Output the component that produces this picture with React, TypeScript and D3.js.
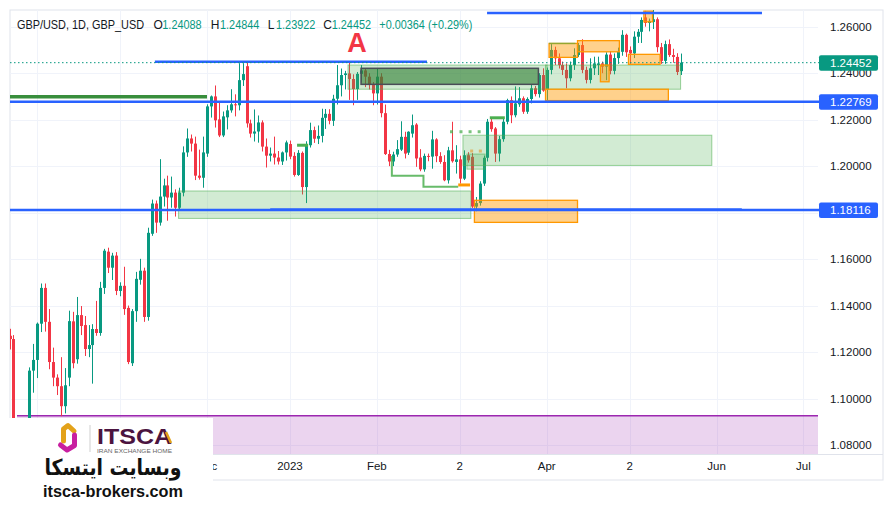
import React from "react";
import * as d3 from "d3";

// Daily GBP/USD candles [open, high, low, close], 22 Sep 2022 .. 19 May 2023
const ohlc: [number, number, number, number][] = [
  [1.1270, 1.1300, 1.1211, 1.1256], [1.1256, 1.1273, 1.0838, 1.0856], [1.0850, 1.0915, 1.0350, 1.0686],
  [1.0686, 1.0870, 1.0652, 1.0732], [1.0732, 1.0891, 1.0539, 1.0889], [1.0889, 1.1134, 1.0762, 1.1120],
  [1.1120, 1.1235, 1.1025, 1.1166], [1.1166, 1.1327, 1.1088, 1.1322], [1.1322, 1.1495, 1.1286, 1.1476],
  [1.1476, 1.1495, 1.1288, 1.1330], [1.1330, 1.1385, 1.1126, 1.1157], [1.1157, 1.1219, 1.1053, 1.1090],
  [1.1090, 1.1104, 1.1015, 1.1053], [1.1053, 1.1178, 1.0924, 1.0967], [1.0967, 1.1131, 1.0936, 1.1057],
  [1.1090, 1.1378, 1.1053, 1.1333], [1.1332, 1.1373, 1.1130, 1.1152], [1.1169, 1.1437, 1.1150, 1.1359],
  [1.1359, 1.1398, 1.1273, 1.1312], [1.1316, 1.1355, 1.1183, 1.1213], [1.1213, 1.1316, 1.1178, 1.1230],
  [1.1230, 1.1320, 1.1064, 1.1299], [1.1299, 1.1420, 1.1270, 1.1282], [1.1282, 1.1502, 1.1270, 1.1476],
  [1.1476, 1.1644, 1.1450, 1.1636], [1.1632, 1.1649, 1.1540, 1.1563], [1.1563, 1.1627, 1.1510, 1.1615],
  [1.1615, 1.1630, 1.1445, 1.1463], [1.1463, 1.1500, 1.1440, 1.1485], [1.1485, 1.1567, 1.1360, 1.1385],
  [1.1390, 1.1400, 1.1148, 1.1157], [1.1152, 1.1385, 1.1140, 1.1376], [1.1376, 1.1545, 1.1330, 1.1515],
  [1.1511, 1.1601, 1.1490, 1.1550], [1.1550, 1.1563, 1.1330, 1.1351], [1.1351, 1.1735, 1.1335, 1.1713],
  [1.1709, 1.1856, 1.1700, 1.1839], [1.1839, 1.1852, 1.1713, 1.1757], [1.1757, 1.2030, 1.1744, 1.1869],
  [1.1869, 1.1946, 1.1826, 1.1917], [1.1917, 1.1959, 1.1765, 1.1865], [1.1865, 1.1955, 1.1821, 1.1886],
  [1.1886, 1.1900, 1.1783, 1.1821], [1.1821, 1.1907, 1.1810, 1.1886], [1.1886, 1.2085, 1.1870, 1.2059],
  [1.2059, 1.2162, 1.2040, 1.2119], [1.2119, 1.2136, 1.2063, 1.2097], [1.2097, 1.2127, 1.1940, 1.1959],
  [1.1959, 1.2071, 1.1942, 1.1950], [1.1950, 1.2127, 1.1907, 1.2059], [1.2054, 1.2266, 1.2040, 1.2257],
  [1.2257, 1.2304, 1.2209, 1.2300], [1.2300, 1.2347, 1.2166, 1.2197], [1.2201, 1.2275, 1.2125, 1.2132],
  [1.2132, 1.2235, 1.2125, 1.2214], [1.2210, 1.2262, 1.2158, 1.2240], [1.2240, 1.2331, 1.2230, 1.2266],
  [1.2266, 1.2309, 1.2214, 1.2262], [1.2262, 1.2443, 1.2240, 1.2370], [1.2370, 1.2443, 1.2345, 1.2396],
  [1.2430, 1.2446, 1.2166, 1.2184], [1.2184, 1.2200, 1.2123, 1.2140], [1.2140, 1.2244, 1.2106, 1.2149],
  [1.2149, 1.2218, 1.2101, 1.2188], [1.2188, 1.2197, 1.2063, 1.2084], [1.2084, 1.2119, 1.1994, 1.2045],
  [1.2045, 1.2080, 1.2020, 1.2054], [1.2054, 1.2127, 1.2007, 1.2037], [1.2037, 1.2065, 1.2007, 1.2020],
  [1.2020, 1.2063, 1.2005, 1.2059], [1.2059, 1.2110, 1.2024, 1.2102], [1.2095, 1.2110, 1.2030, 1.2041],
  [1.2044, 1.2060, 1.1955, 1.1962], [1.1962, 1.2069, 1.1958, 1.2057], [1.2057, 1.2063, 1.1878, 1.1910],
  [1.1910, 1.2107, 1.1841, 1.2090], [1.2090, 1.2187, 1.2080, 1.2155], [1.2155, 1.2170, 1.2100, 1.2118],
  [1.2118, 1.2175, 1.2095, 1.2130], [1.2130, 1.2247, 1.2102, 1.2208], [1.2208, 1.2246, 1.2160, 1.2225],
  [1.2225, 1.2245, 1.2180, 1.2195], [1.2195, 1.2307, 1.2173, 1.2290], [1.2290, 1.2435, 1.2265, 1.2348],
  [1.2348, 1.2420, 1.2300, 1.2392], [1.2392, 1.2410, 1.2330, 1.2399], [1.2399, 1.2448, 1.2285, 1.2375],
  [1.2375, 1.2395, 1.2262, 1.2332], [1.2332, 1.2405, 1.2285, 1.2397], [1.2397, 1.2435, 1.2360, 1.2412],
  [1.2412, 1.2420, 1.2340, 1.2385], [1.2385, 1.2400, 1.2330, 1.2349], [1.2349, 1.2362, 1.2262, 1.2313],
  [1.2313, 1.2418, 1.2265, 1.2385], [1.2385, 1.2400, 1.2210, 1.2228], [1.2228, 1.2265, 1.2048, 1.2052],
  [1.2052, 1.2070, 1.2000, 1.2020], [1.2020, 1.2062, 1.2000, 1.2050], [1.2050, 1.2112, 1.2040, 1.2073],
  [1.2071, 1.2193, 1.2065, 1.2126], [1.2126, 1.2148, 1.2033, 1.2054], [1.2058, 1.2150, 1.2048, 1.2148],
  [1.2140, 1.2222, 1.2123, 1.2176], [1.2179, 1.2185, 1.1997, 1.2033], [1.2037, 1.2073, 1.1978, 1.1986],
  [1.1986, 1.2054, 1.1976, 1.2044], [1.2044, 1.2054, 1.2021, 1.2041], [1.2041, 1.2152, 1.1989, 1.2115],
  [1.2115, 1.2120, 1.2017, 1.2043], [1.2043, 1.2060, 1.2010, 1.2018], [1.2018, 1.2047, 1.1935, 1.1939],
  [1.1939, 1.2083, 1.1925, 1.2068], [1.2068, 1.2191, 1.2015, 1.2021], [1.2018, 1.2090, 1.1968, 1.2029],
  [1.2029, 1.2045, 1.1925, 1.1946], [1.1946, 1.2068, 1.1940, 1.2047], [1.2047, 1.2060, 1.2015, 1.2025],
  [1.2040, 1.2056, 1.1820, 1.1826], [1.1826, 1.1867, 1.1806, 1.1841], [1.1841, 1.1935, 1.1830, 1.1925],
  [1.1925, 1.2045, 1.1915, 1.2036], [1.2036, 1.2203, 1.2020, 1.2191], [1.2191, 1.2208, 1.2148, 1.2159],
  [1.2162, 1.2168, 1.2018, 1.2054], [1.2054, 1.2130, 1.2020, 1.2116], [1.2116, 1.2208, 1.2105, 1.2191],
  [1.2191, 1.2290, 1.2180, 1.2284], [1.2284, 1.2300, 1.2185, 1.2219], [1.2219, 1.2343, 1.2210, 1.2270],
  [1.2266, 1.2340, 1.2255, 1.2292], [1.2292, 1.2300, 1.2225, 1.2234], [1.2234, 1.2296, 1.2225, 1.2289],
  [1.2289, 1.2350, 1.2270, 1.2335], [1.2335, 1.2345, 1.2300, 1.2310], [1.2310, 1.2400, 1.2295, 1.2392],
  [1.2392, 1.2421, 1.2320, 1.2325], [1.2328, 1.2424, 1.2275, 1.2414], [1.2414, 1.2525, 1.2395, 1.2500],
  [1.2500, 1.2514, 1.2435, 1.2464], [1.2464, 1.2485, 1.2420, 1.2435], [1.2435, 1.2450, 1.2392, 1.2414],
  [1.2414, 1.2442, 1.2335, 1.2378], [1.2378, 1.2450, 1.2365, 1.2435], [1.2435, 1.2507, 1.2414, 1.2478],
  [1.2478, 1.2530, 1.2470, 1.2521], [1.2521, 1.2546, 1.2400, 1.2414], [1.2414, 1.2428, 1.2356, 1.2371],
  [1.2371, 1.2464, 1.2356, 1.2421], [1.2421, 1.2471, 1.2392, 1.2442], [1.2435, 1.2471, 1.2392, 1.2442],
  [1.2442, 1.2450, 1.2400, 1.2428], [1.2428, 1.2490, 1.2370, 1.2480], [1.2480, 1.2495, 1.2395, 1.2410],
  [1.2410, 1.2485, 1.2395, 1.2465], [1.2465, 1.2510, 1.2440, 1.2492], [1.2492, 1.2585, 1.2475, 1.2565],
  [1.2565, 1.2570, 1.2470, 1.2490], [1.2500, 1.2515, 1.2440, 1.2485], [1.2485, 1.2580, 1.2465, 1.2557],
  [1.2557, 1.2590, 1.2530, 1.2578], [1.2578, 1.2640, 1.2530, 1.2629], [1.2640, 1.2668, 1.2600, 1.2616],
  [1.2616, 1.2635, 1.2580, 1.2625], [1.2620, 1.2672, 1.2590, 1.2632], [1.2632, 1.2640, 1.2490, 1.2512],
  [1.2512, 1.2530, 1.2440, 1.2453], [1.2453, 1.2540, 1.2440, 1.2525], [1.2525, 1.2545, 1.2470, 1.2478],
  [1.2478, 1.2505, 1.2445, 1.2470], [1.2470, 1.2486, 1.2392, 1.2405], [1.24088, 1.24844, 1.23922, 1.24452],
];

const timeTickIndex = [7, 28, 50, 71, 93, 114, 136, 157, 179, 201];
const timeTickLabels = ["Oct", "Nov", "Dec", "2023", "Feb", "2", "Apr", "2", "Jun", "Jul"];
const priceTicks = [1.08, 1.1, 1.12, 1.14, 1.16, 1.18, 1.2, 1.22, 1.24, 1.26];

const lastPrice = 1.24452;
const changeText = "+0.00364 (+0.29%)";
const levelLines = [1.22769, 1.18116];
// [fromIndex, toIndex, price]
const blueSegments: [number, number, number][] = [
  [36.8, 105.7, 1.2449],
  [120.9, 190.5, 1.2659],
  [66, 185.4, 1.1817],
];
const darkGreenLevel: [number, number, number] = [0, 50, 1.2299];
// [fromIndex, toIndex, topPrice, bottomPrice]
const greenZones: [number, number, number, number][] = [
  [42.8, 116.8, 1.1893, 1.1775],
  [85.7, 136.1, 1.2435, 1.2331],
  [114.8, 177.8, 1.2133, 1.2003],
  [115.8, 120.4, 1.2052, 1.1987],
  [135.7, 169.9, 1.2435, 1.2331],
];
const darkZone: [number, number, number, number] = [89, 133.9, 1.2421, 1.2352];
const orangeZones: [number, number, number, number][] = [
  [117.7, 143.8, 1.1853, 1.1758],
  [135.7, 166.8, 1.2331, 1.2282],
  [136.6, 143.8, 1.2528, 1.2468],
  [143.8, 154.4, 1.254, 1.2492],
  [156.7, 164.7, 1.2481, 1.2438],
  [149.6, 151.8, 1.2435, 1.2363],
  [160.6, 162.8, 1.2667, 1.2621],
];
const purpleZone: [number, number, number, number] = [1.9, 206, 1.0926, 1.07];
const stepLine: [number, number][] = [
  [96.8, 1.2044], [96.8, 1.1959], [104.8, 1.1959], [104.8, 1.1911], [113.6, 1.1911],
];
const orangeSegment: [number, number, number] = [113.6, 116.6, 1.1919];
const greenSegments: [number, number, number][] = [
  [72.8, 75.6, 1.209],
  [121.6, 125.4, 1.2208],
];
const greenDotIndex = [111.9, 114.3, 116.6, 118.9];
const greenDotPrice = 1.2148;
const tanDotIndex = [117, 119.2];
const tanDotPrice = 1.2065;

const FONT = "'Liberation Sans', Arial, sans-serif";
const UP = "#089981";
const DOWN = "#f23645";
const BLUE = "#2962ff";

export default function App() {
  const W = 893, H = 516;
  const pl = 10, pr = 818, pt = 10, pb = 454;
  const logoRight = 213;
  const x = d3.scaleLinear().domain([0, 170]).range([9.5, 681]);
  const y = d3.scaleLinear().domain([1.08, 1.26]).range([445, 26.7]);
  const fmt = d3.format(".5f");
  const stepPath = d3.line<[number, number]>().x((d) => x(d[0])).y((d) => y(d[1]))(stepLine) || "";

  const zoneRect = (z: [number, number, number, number]) => ({
    x: x(z[0]), y: y(z[2]), width: x(z[1]) - x(z[0]), height: y(z[3]) - y(z[2]),
  });

  // price-axis tick labels hidden behind the level label boxes (as on the chart)
  const hiddenTick = (p: number) => levelLines.some((l) => Math.abs(y(l) - y(p)) < 6);
  const last = ohlc[ohlc.length - 1];

  return (
    <svg width={W} height={H} style={{ position: "absolute", left: 0, top: 0, background: "#fff" }} fontFamily={FONT}>
      <defs>
        <clipPath id="plotClip">
          <rect x={pl} y={pt} width={pr - pl} height={pb - pt} />
        </clipPath>
      </defs>
      <rect x={0} y={0} width={W} height={H} fill="#fff" />
      {/* frame */}
      <rect x={pl} y={pt} width={883 - pl} height={480 - pt} fill="none" stroke="#e0e3eb" strokeWidth={1} />
      <line x1={pl} x2={883} y1={pb + 0.5} y2={pb + 0.5} stroke="#e0e3eb" />

      <g clipPath="url(#plotClip)">
        {/* grid */}
        {timeTickIndex.map((t, i) => (
          <line key={"vg" + i} x1={Math.round(x(t)) + 0.5} x2={Math.round(x(t)) + 0.5} y1={pt} y2={pb} stroke="#f0f3fa" strokeWidth={1} />
        ))}
        {priceTicks.map((p, i) => (
          <line key={"hg" + i} x1={pl} x2={pr} y1={Math.round(y(p)) + 0.5} y2={Math.round(y(p)) + 0.5} stroke="#f0f3fa" strokeWidth={1} />
        ))}

        {/* purple zone */}
        {(() => {
          const r = zoneRect(purpleZone);
          return (
            <g>
              <rect {...r} fill="rgba(156,39,176,0.2)" />
              <line x1={r.x} x2={r.x + r.width} y1={r.y} y2={r.y} stroke="#9c27b0" strokeWidth={1.5} />
            </g>
          );
        })()}

        {/* dark green level */}
        <line x1={x(darkGreenLevel[0])} x2={x(darkGreenLevel[1])} y1={y(darkGreenLevel[2])} y2={y(darkGreenLevel[2])}
          stroke="#388e3c" strokeWidth={3.5} />

        {/* candles */}
        {ohlc.map(([o, h, l, c], i) => {
          const col = c >= o ? UP : DOWN;
          const cx = Math.round(x(i));
          const top = y(Math.max(o, c));
          const bot = y(Math.min(o, c));
          return (
            <g key={"c" + i}>
              <line x1={cx + 0.5} x2={cx + 0.5} y1={y(h)} y2={y(l)} stroke={col} strokeWidth={1} />
              <rect x={cx - 1} y={top} width={3} height={Math.max(1, bot - top)} fill={col} />
            </g>
          );
        })}

        {/* green zones */}
        {greenZones.map((z, i) => (
          <rect key={"gz" + i} {...zoneRect(z)} fill="rgba(76,175,80,0.25)" stroke="rgba(76,175,80,0.55)" strokeWidth={1} />
        ))}
        <rect {...zoneRect(darkZone)} fill="rgba(46,125,50,0.6)" stroke="#4a4d57" strokeWidth={1.5} />
        {/* orange zones */}
        {orangeZones.map((z, i) => (
          <rect key={"oz" + i} {...zoneRect(z)} fill="rgba(255,152,0,0.45)" stroke="#ff9800" strokeWidth={1.3} />
        ))}
        <line x1={x(orangeZones[2][0])} x2={x(orangeZones[2][1]) - 2} y1={y(orangeZones[2][2])} y2={y(orangeZones[2][2])}
          stroke="rgba(76,175,80,0.6)" strokeWidth={1.5} />

        {/* step line & segments */}
        <path d={stepPath} fill="none" stroke="#4caf50" strokeWidth={2} strokeOpacity={0.85} />
        <line x1={x(orangeSegment[0])} x2={x(orangeSegment[1])} y1={y(orangeSegment[2])} y2={y(orangeSegment[2])}
          stroke="#ff9800" strokeWidth={3} />
        {greenSegments.map((s, i) => (
          <line key={"gs" + i} x1={x(s[0])} x2={x(s[1])} y1={y(s[2])} y2={y(s[2])} stroke="#4caf50" strokeWidth={3} />
        ))}
        {greenDotIndex.map((d, i) => (
          <rect key={"gd" + i} x={x(d) - 1.5} y={y(greenDotPrice) - 1.5} width={3} height={3} fill="#4caf50" fillOpacity={0.75} />
        ))}
        {tanDotIndex.map((d, i) => (
          <rect key={"td" + i} x={x(d) - 1.5} y={y(tanDotPrice) - 1.5} width={3} height={3} fill="#e0a84a" fillOpacity={0.75} />
        ))}

        {/* blue segments */}
        {blueSegments.map((s, i) => (
          <line key={"bs" + i} x1={x(s[0])} x2={x(s[1])} y1={y(s[2])} y2={y(s[2])} stroke={BLUE}
            strokeWidth={i === 2 ? 1.5 : 2.5} strokeOpacity={i === 2 ? 0.7 : 1} />
        ))}

        {/* red A */}
        <text x={357} y={52} textAnchor="middle" fontSize={27} fontWeight={700} fill="#f23645">A</text>
      </g>

      {/* full-width level lines */}
      {levelLines.map((p, i) => (
        <line key={"ll" + i} x1={pl} x2={pr + 1} y1={y(p)} y2={y(p)} stroke={BLUE} strokeWidth={2.5} />
      ))}
      {/* last price dotted line */}
      <line x1={pl} x2={pr + 1} y1={y(lastPrice)} y2={y(lastPrice)} stroke={UP} strokeWidth={1} strokeDasharray="1.5 2.5" />

      {/* legend */}
      <g fontSize={12} fill="#131722">
        <text x={17} y={29} textLength={127} lengthAdjust="spacingAndGlyphs">GBP/USD, 1D, GBP_USD</text>
        {[
          ["O", last[0], 153.5, 162.3],
          ["H", last[1], 210.7, 220],
          ["L", last[2], 267.7, 276],
          ["C", last[3], 323.3, 331.7],
        ].map(([k, v, kx, vx], i) => (
          <g key={"lg" + i}>
            <text x={kx as number} y={29}>{k as string}</text>
            <text x={vx as number} y={29} fill={UP} textLength={39.4} lengthAdjust="spacingAndGlyphs">{fmt(v as number)}</text>
          </g>
        ))}
        <text x={379.3} y={29} fill={UP} textLength={93} lengthAdjust="spacingAndGlyphs">{changeText}</text>
      </g>

      {/* price axis */}
      <g fontSize={11.5} fill="#131722">
        {priceTicks.filter((p) => !hiddenTick(p)).map((p, i) => (
          <text key={"pt" + i} x={830} y={y(p)} dy="0.35em">{fmt(p)}</text>
        ))}
      </g>
      {[
        { p: lastPrice, col: UP },
        { p: levelLines[0], col: BLUE },
        { p: levelLines[1], col: BLUE },
      ].map((b, i) => (
        <g key={"pl" + i}>
          <rect x={819} y={y(b.p) - 7.5} width={59} height={15.5} rx={2} fill={b.col} />
          <text x={830} y={y(b.p)} dy="0.36em" fontSize={11.5} fill="#fff">{fmt(b.p)}</text>
        </g>
      ))}

      {/* time axis (labels left of the logo's right edge are covered by it) */}
      <g fontSize={11.5} fill="#131722">
        {timeTickIndex.map((t, i) =>
          x(t) + 10 > logoRight ? (
            <text key={"tt" + i} x={x(t)} y={470} textAnchor="middle">{timeTickLabels[i]}</text>
          ) : null
        )}
      </g>

      {/* logo overlay */}
      <g>
        <rect x={0} y={418} width={logoRight} height={82} fill="#fff" />
        <path d="M74,431 L68,425.5 L63.5,429 L63.5,441" fill="none" stroke="#e3a21a" strokeWidth={5} strokeLinecap="round" strokeLinejoin="round" />
        <path d="M60.5,445 L67,450 L74.5,445.5 L74.5,435" fill="none" stroke="#c81fa0" strokeWidth={5} strokeLinecap="round" strokeLinejoin="round" />
        <line x1={90} x2={90} y1={425} y2={452} stroke="#cfcfcf" strokeWidth={1} />
        <text x={97} y={444} fontSize={22} fontWeight={700} fill="#4b1440" textLength={75} lengthAdjust="spacingAndGlyphs">ITSCA</text>
        <line x1={166} x2={171} y1={432} y2={443} stroke="#e3a21a" strokeWidth={2.5} />
        <text x={97} y={453} fontSize={6} fill="#666" textLength={75} lengthAdjust="spacingAndGlyphs">IRAN EXCHANGE HOME</text>
        <text x={113} y={475} fontSize={22} fontWeight={700} fill="#111" textAnchor="middle"
          fontFamily="'DejaVu Sans', sans-serif" textLength={137} lengthAdjust="spacingAndGlyphs">وبسایت ایتسکا</text>
        <text x={113} y={496.5} fontSize={17} fontWeight={700} fill="#111" textAnchor="middle"
          textLength={140} lengthAdjust="spacingAndGlyphs">itsca-brokers.com</text>
      </g>
    </svg>
  );
}
